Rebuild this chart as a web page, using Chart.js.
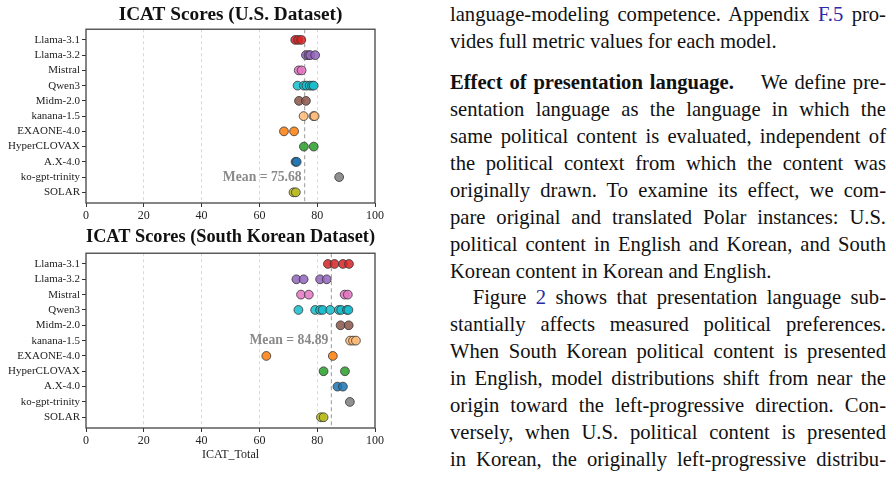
<!DOCTYPE html>
<html>
<head>
<meta charset="utf-8">
<script src="https://cdn.jsdelivr.net/npm/chart.js@4.4.1/dist/chart.umd.min.js"></script>
<style>
  body { margin: 0; background: #fff; width: 896px; height: 478px; overflow: hidden; position: relative; font-family: 'Liberation Serif', 'DejaVu Serif', serif; }
  #usChart { position: absolute; left: 0; top: 0; }
  #krChart { position: absolute; left: 0; top: 225px; }
  #text { position: absolute; left: 450px; top: 1px; width: 436px; font-size: 20.6px; line-height: 26.9px; color: #111; }
  #text div { text-align: justify; text-align-last: justify; }
  #text div.end { text-align-last: left; }
  #text .gap { margin-top: 14.4px; }
  #text .indent { text-indent: 22.7px; }
  #text a { color: #2b2ba6; text-decoration: none; }
</style>
</head>
<body>
<canvas id="usChart" width="400" height="225"></canvas>
<canvas id="krChart" width="400" height="253"></canvas>

<div id="text">
  <div>language-modeling competence. Appendix <a>F.5</a> pro-</div>
  <div class="end">vides full metric values for each model.</div>
  <div class="gap"><b>Effect of presentation language.</b>&nbsp;&nbsp;&nbsp; We define pre-</div>
  <div>sentation language as the language in which the</div>
  <div>same political content is evaluated, independent of</div>
  <div>the political context from which the content was</div>
  <div>originally drawn. To examine its effect, we com-</div>
  <div>pare original and translated Polar instances: U.S.</div>
  <div>political content in English and Korean, and South</div>
  <div class="end">Korean content in Korean and English.</div>
  <div class="indent">Figure <a>2</a> shows that presentation language sub-</div>
  <div>stantially affects measured political preferences.</div>
  <div>When South Korean political content is presented</div>
  <div>in English, model distributions shift from near the</div>
  <div>origin toward the left-progressive direction. Con-</div>
  <div>versely, when U.S. political content is presented</div>
  <div>in Korean, the originally left-progressive distribu-</div>
</div>

<script>
// --- DATA ---
const models = ['Llama-3.1', 'Llama-3.2', 'Mistral', 'Qwen3', 'Midm-2.0', 'kanana-1.5',
  'EXAONE-4.0', 'HyperCLOVAX', 'A.X-4.0', 'ko-gpt-trinity', 'SOLAR'];

// one list of ICAT_Total runs per model (same order as models)
const usScores = [
  [72.4, 73.4, 74.5],
  [76.1, 77.0, 77.6, 79.3],
  [73.6, 74.6],
  [73.2, 75.4, 76.3, 77.4, 78.2, 78.8],
  [73.7, 76.1],
  [75.3, 78.7, 79.1],
  [68.5, 72.0],
  [75.4, 78.8],
  [72.5, 72.9],
  [87.6],
  [71.8, 72.6]
];
const krScores = [
  [83.7, 86.0, 88.9, 91.0],
  [72.8, 75.3, 81.0, 83.3],
  [74.4, 77.1, 89.5, 90.6],
  [73.5, 79.3, 81.0, 81.9, 84.5, 87.5, 88.3, 90.3, 90.8],
  [88.1, 90.9],
  [91.4, 92.4, 93.4],
  [62.4, 85.4],
  [82.2, 89.6],
  [87.0, 88.9],
  [91.3],
  [81.3, 82.2]
];
const usMean = 75.68;
const krMean = 84.89;
const xTicks = [0, 20, 40, 60, 80, 100];

const colors = ['#d62728', '#9467bd', '#e377c2', '#17becf', '#8c564b', '#ffbb78',
  '#ff7f0e', '#2ca02c', '#1f77b4', '#7f7f7f', '#bcbd22'];

Chart.defaults.font.family = "'Liberation Serif', 'DejaVu Serif', serif";
Chart.defaults.color = '#222';

// frame around plot + "Mean = .." label
const framePlugin = {
  id: 'frame',
  afterDatasetsDraw(chart, args, opts) {
    const { ctx, chartArea: a } = chart;
    const xs = chart.scales.x, ys = chart.scales.y;
    ctx.save();
    ctx.font = 'bold 13.7px ' + Chart.defaults.font.family;
    ctx.fillStyle = '#8a8a8a';
    ctx.textAlign = 'right';
    ctx.textBaseline = 'middle';
    ctx.fillText('Mean = ' + opts.mean.toFixed(2), xs.getPixelForValue(opts.mean) - 3, ys.getPixelForValue(opts.row));
    ctx.strokeStyle = '#444';
    ctx.lineWidth = 1.3;
    ctx.strokeRect(a.left, a.top, a.right - a.left, a.bottom - a.top);
    ctx.restore();
  }
};

function makeChart(id, title, scores, mean, meanRow, bottom) {
  const datasets = scores.map((vals, i) => ({
    data: vals.map(v => ({ x: v, y: i })),
    backgroundColor: colors[i] + 'dd',
    borderColor: '#333',
    borderWidth: 0.8,
    pointRadius: 4.4,
    showLine: false
  }));
  // mean reference line
  datasets.push({
    data: [{ x: mean, y: -0.7 }, { x: mean, y: models.length - 0.3 }],
    showLine: true,
    borderColor: '#999',
    borderWidth: 1,
    borderDash: [4, 3],
    pointRadius: 0,
    order: 100
  });

  new Chart(document.getElementById(id), {
    type: 'scatter',
    data: { datasets },
    options: {
      responsive: false,
      animation: false,
      layout: { padding: { left: 0, right: 25, top: 0, bottom: 0 } },
      plugins: {
        legend: { display: false },
        tooltip: { enabled: false },
        title: {
          display: true,
          text: title,
          fullSize: false,
          color: '#111',
          font: { size: 19.3, weight: 'bold', lineHeight: 1.1 },
          padding: bottom ? { top: 1, bottom: 6 } : { top: 4, bottom: 4 }
        },
        frame: { mean, row: meanRow }
      },
      scales: {
        x: {
          type: 'linear',
          min: 0, max: 100,
          afterBuildTicks: s => { s.ticks = xTicks.map(v => ({ value: v })); },
          afterFit: s => { s.height = bottom ? 50 : 22; },
          border: { display: false, dash: [3, 3] },
          grid: {
            color: c => (c.tick && (c.tick.value === 0 || c.tick.value === 100)) ? 'rgba(0,0,0,0)' : '#d8d8d8',
            tickColor: '#333',
            tickBorderDash: [],
            tickLength: 4
          },
          ticks: { font: { size: 12 }, color: '#222', padding: 2, maxRotation: 0 },
          title: {
            display: bottom,
            text: 'ICAT_Total',
            color: '#222',
            font: { size: 12 },
            padding: { top: 0, bottom: 16 }
          }
        },
        y: {
          type: 'linear',
          reverse: true,
          min: -0.7,
          max: models.length - 0.3,
          afterBuildTicks: s => { s.ticks = models.map((m, i) => ({ value: i })); },
          afterFit: s => { s.width = 86; },
          border: { display: false },
          grid: { drawOnChartArea: false, drawTicks: true, tickLength: 4, color: '#333' },
          ticks: {
            font: { size: 11 },
            color: '#222',
            padding: 2,
            callback: v => models[v]
          }
        }
      }
    },
    plugins: [framePlugin]
  });
}

makeChart('usChart', 'ICAT Scores (U.S. Dataset)', usScores, usMean, 9, false);
makeChart('krChart', 'ICAT Scores (South Korean Dataset)', krScores, krMean, 5, true);
</script>
</body>
</html>
